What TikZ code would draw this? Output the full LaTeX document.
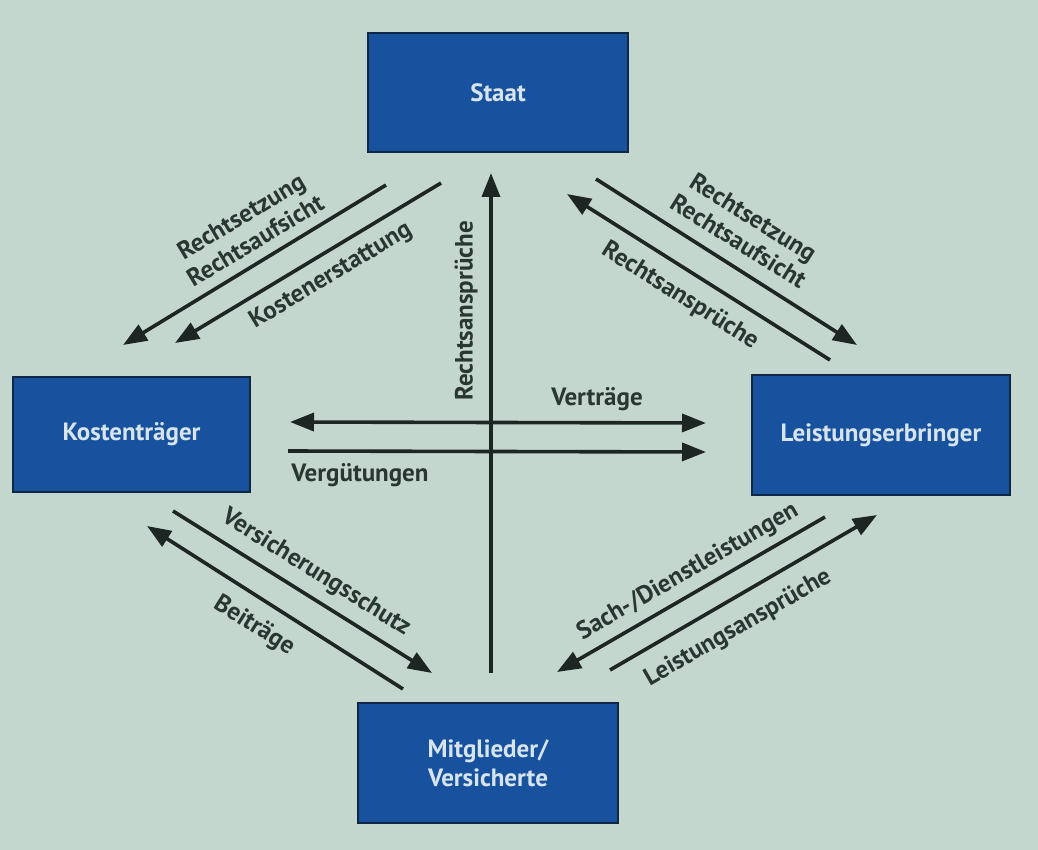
\documentclass[tikz,border=0pt]{standalone}
\usepackage{fontspec}
\setmainfont{PT Sans}
\usetikzlibrary{arrows.meta}
\definecolor{bg}{RGB}{196,215,206}
\definecolor{boxblue}{RGB}{24,82,158}
\definecolor{boxedge}{RGB}{16,40,70}
\definecolor{ink}{RGB}{30,38,36}
\definecolor{labelink}{RGB}{42,54,50}
\definecolor{boxtext}{RGB}{214,228,236}
\tikzset{
  box/.style={rectangle, fill=boxblue, draw=boxedge, line width=1.5pt, inner sep=0pt,
    text=boxtext, font=\bfseries\fontsize{25}{29}\selectfont, align=center},
  conn/.style={draw=ink, line width=3.6pt, -{Triangle[length=24pt,width=18pt]}},
  conn2/.style={draw=ink, line width=3.6pt, {Triangle[length=24pt,width=18pt]}-{Triangle[length=24pt,width=18pt]}},
  lbl/.style={text=labelink, font=\bfseries\fontsize{25}{28}\selectfont, align=center, inner sep=0pt}
}
\begin{document}
\begin{tikzpicture}[x=1pt,y=-1pt]
\fill[bg] (0,0) rectangle (1038,850);
\useasboundingbox (0,0) rectangle (1038,850);

% boxes
\node[box, minimum width=260pt, minimum height=119pt] (staat) at (498,92.5) {Staat};
\node[box, minimum width=237pt, minimum height=115pt] (kt) at (131.5,434.5) {Kostenträger};
\node[box, minimum width=258pt, minimum height=120pt] (le) at (881,435) {Leistungserbringer};
\node[box, minimum width=260pt, minimum height=120pt] (mv) at (488,763) {Mitglieder/\\Versicherte};

% endpoints
\coordinate (a1s) at (386,185); \coordinate (a1e) at (123,345);
\coordinate (a2s) at (441,183); \coordinate (a2e) at (175,343);
\coordinate (b1s) at (596,179); \coordinate (b1e) at (857,345);
\coordinate (b2s) at (830,360); \coordinate (b2e) at (567,194);
\coordinate (c1s) at (173,511); \coordinate (c1e) at (432,673);
\coordinate (c2s) at (403,689); \coordinate (c2e) at (147,526);
\coordinate (d1s) at (825,517); \coordinate (d1e) at (557,672);
\coordinate (d2s) at (610,670); \coordinate (d2e) at (877,515);
\coordinate (h1s) at (290,422); \coordinate (h1e) at (706,423);
\coordinate (h2s) at (288,451); \coordinate (h2e) at (706,452);
\coordinate (vs) at (491,673); \coordinate (ve) at (491,173);

% connectors
\draw[conn] (a1s) -- (a1e);
\draw[conn] (a2s) -- (a2e);
\draw[conn] (b1s) -- (b1e);
\draw[conn] (b2s) -- (b2e);
\draw[conn] (c1s) -- (c1e);
\draw[conn] (c2s) -- (c2e);
\draw[conn] (d1s) -- (d1e);
\draw[conn] (d2s) -- (d2e);
\draw[conn2] (h1s) -- (h1e);
\draw[conn] (h2s) -- (h2e);
\draw[conn] (vs) -- (ve);

% labels
\node[lbl, rotate=31] (l1) at (248,228) {Rechtsetzung\\Rechtsaufsicht};
\node[lbl, rotate=31] (l2) at (331,276) {Kostenerstattung};
\node[lbl, rotate=-32] (l3) at (746,229) {Rechtsetzung\\Rechtsaufsicht};
\node[lbl, rotate=-32] (l4) at (680,296) {Rechtsansprüche};
\node[lbl] (l5) at (597,399) {Verträge};
\node[lbl] (l6) at (360,475) {Vergütungen};
\node[lbl, rotate=90] (l7) at (466,311) {Rechtsansprüche};
\node[lbl, rotate=-32] (l8) at (316,573) {Versicherungsschutz};
\node[lbl, rotate=-32] (l9) at (254,626) {Beiträge};
\node[lbl, rotate=30] (l10) at (688,572) {Sach-/Dienstleistungen};
\node[lbl, rotate=30] (l11) at (738,628) {Leistungsansprüche};
\end{tikzpicture}
\end{document}
